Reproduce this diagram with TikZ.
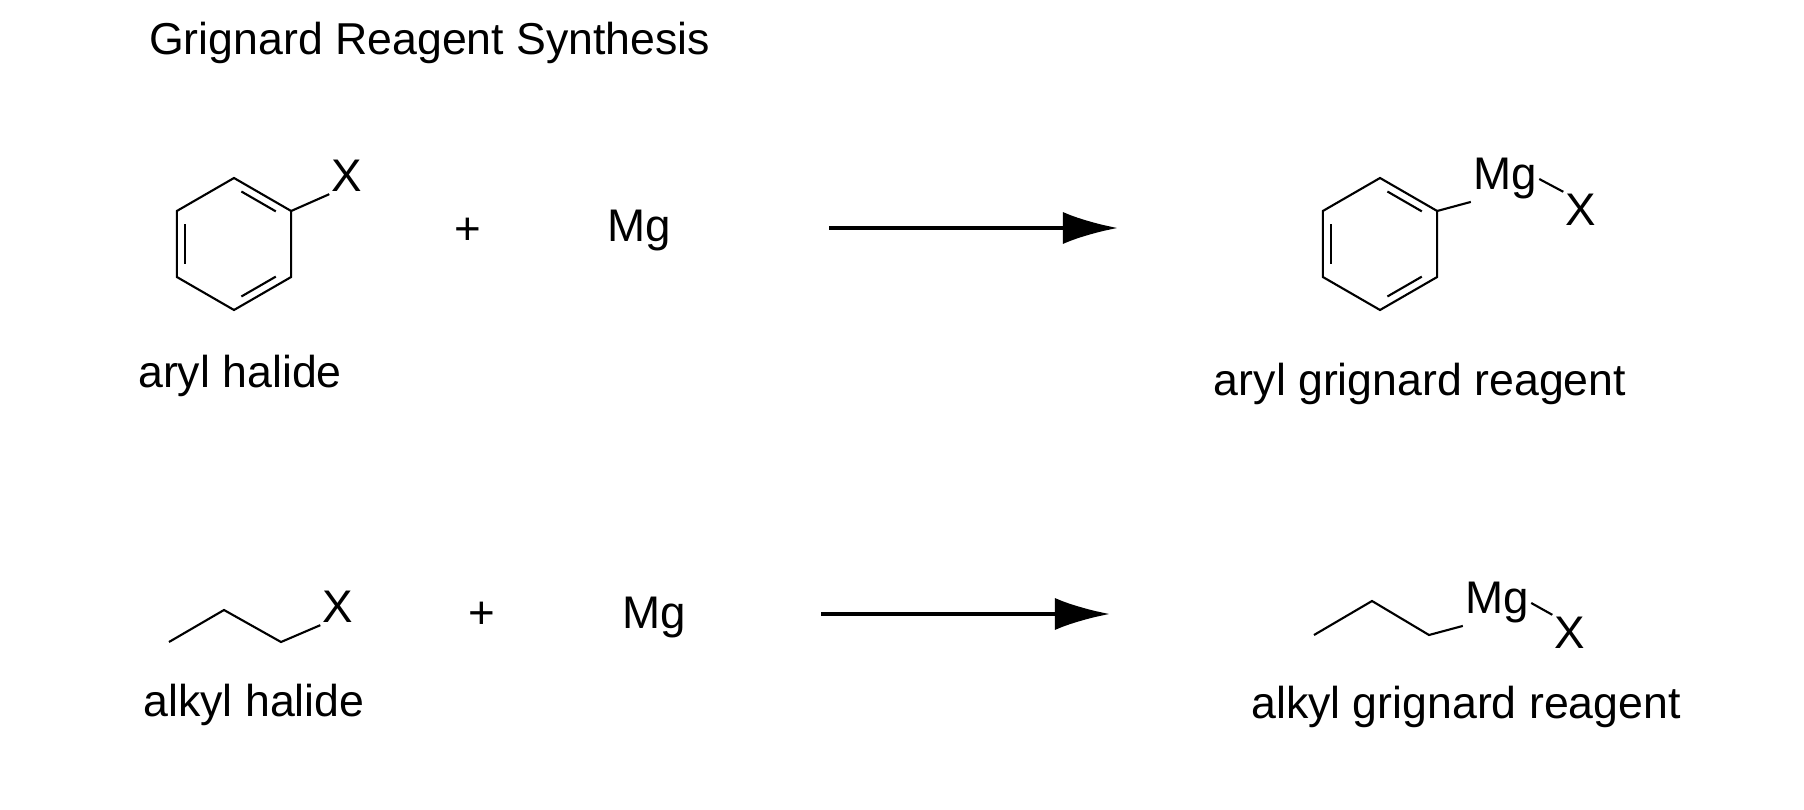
\documentclass[tikz,border=0pt]{standalone}
\usepackage{fontspec}
\setmainfont{Liberation Sans}
\usetikzlibrary{calc,positioning,arrows.meta}
\tikzset{>={Latex[width=3.2mm,length=5.5mm]}}
\begin{document}
\begin{tikzpicture}[x=0.01cm,y=-0.01cm]
  \tikzstyle{lbl} = [font=\fontsize{12.7}{15}\selectfont, inner sep=1pt]
  \tikzstyle{atom} = [font=\fontsize{13}{15}\selectfont, inner sep=0.5pt]
  \tikzstyle{bond} = [line width=0.6pt]
  \useasboundingbox (0,0) rectangle (1804,810);

  \node[lbl, anchor=west] (title) at (145,43) {Grignard Reagent Synthesis};

  % aryl row
  \foreach \c/\n in {234/a, 1380/b} {
    \foreach \i in {0,...,5}
      \coordinate (\n\i) at ($(\c,244)+(90-60*\i:66 and -66)$);
    \draw[bond] (\n0) -- (\n1) -- (\n2) -- (\n3) -- (\n4) -- (\n5) -- cycle;
    \draw[bond] ($(\n0)!0.15!(\n1)!0.14!(\c,244)$) -- ($(\n1)!0.15!(\n0)!0.14!(\c,244)$);
    \draw[bond] ($(\n2)!0.15!(\n3)!0.14!(\c,244)$) -- ($(\n3)!0.15!(\n2)!0.14!(\c,244)$);
    \draw[bond] ($(\n4)!0.15!(\n5)!0.14!(\c,244)$) -- ($(\n5)!0.15!(\n4)!0.14!(\c,244)$);
  }
  \node[atom] (xa) at (347,176) {X};
  \draw[bond] (a1) -- (xa.south west);
  \node[atom] (plusa) at (468,231) {+};
  \node[atom] (mga) at (639,231) {Mg};
  \coordinate (arra) at (829,228);
  \coordinate (arrb) at (1118,228);
  \draw[->, line width=1.2pt] (arra) -- (arrb);
  \node[atom] (mgb) at (1505,179) {Mg};
  \node[atom] (xb) at (1581,210) {X};
  \draw[bond] (b1) -- (mgb.south west);
  \draw[bond] (mgb.east) -- (xb.north west);
  \node[lbl] (arylhal) at (240,376) {aryl halide};
  \node[lbl] (arylgr) at (1420,384) {aryl grignard reagent};

  % alkyl row
  \coordinate (c1) at (169,642);
  \coordinate (c2) at (224,610);
  \coordinate (c3) at (281,642);
  \node[atom] (xc) at (338,607) {X};
  \draw[bond] (c1) -- (c2) -- (c3) -- (xc.south west);
  \node[atom] (plusb) at (482,615) {+};
  \node[atom] (mgc) at (654,618) {Mg};
  \coordinate (arrc) at (821,614);
  \coordinate (arrd) at (1110,614);
  \draw[->, line width=1.2pt] (arrc) -- (arrd);
  \coordinate (d1) at (1314,635);
  \coordinate (d2) at (1372,601);
  \coordinate (d3) at (1429,635);
  \node[atom] (mgd) at (1497,603) {Mg};
  \node[atom] (xd) at (1570,633) {X};
  \draw[bond] (d1) -- (d2) -- (d3) -- (mgd.south west);
  \draw[bond] (mgd.east) -- (xd.north west);
  \node[lbl] (alkhal) at (254,705) {alkyl halide};
  \node[lbl] (alkgr) at (1466,707) {alkyl grignard reagent};
\end{tikzpicture}
\end{document}
